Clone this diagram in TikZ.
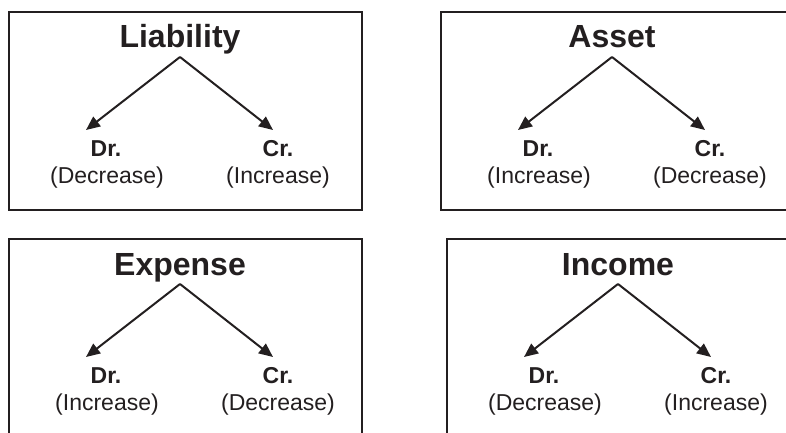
\documentclass[tikz,border=0pt]{standalone}
\usepackage{fontspec}
\setmainfont{Liberation Sans}
\usetikzlibrary{arrows.meta}
\definecolor{ink}{HTML}{231F20}
\begin{document}
\begin{tikzpicture}[x=1pt,y=-1pt,
  frame/.style={draw=ink,line width=2.6pt},
  titletext/.style={anchor=base,inner sep=0pt,text=ink,font=\fontsize{32}{38}\selectfont\bfseries},
  sidetext/.style={anchor=base,inner sep=0pt,text=ink,font=\fontsize{23}{27}\selectfont\bfseries},
  subtext/.style={anchor=base,inner sep=0pt,text=ink,font=\fontsize{23}{27}\selectfont},
  branch/.style={draw=ink,line width=2pt,-{Triangle[length=14pt,width=12pt]}}]
\useasboundingbox (0,0) rectangle (786,433);
\clip (0,0) rectangle (786,433);
\foreach \i/\dx/\dy/\ttl/\drt/\crt in {1/0/0/Liability/Decrease/Increase,
                                       2/432/0/Asset/Increase/Decrease,
                                       3/0/227/Expense/Increase/Decrease,
                                       4/438/227/Income/Decrease/Increase}{
  \begin{scope}[shift={(\dx,\dy)}]
    \path[frame] (9,12) rectangle (362,210);
    \node[titletext] (title\i) at (180,48) {\ttl};
    \coordinate (apex\i) at (180,57);
    \coordinate (drtip\i) at (86,130);
    \coordinate (crtip\i) at (273,130);
    \node[sidetext] (dr\i) at (106,156) {Dr.};
    \node[sidetext] (cr\i) at (278,156) {Cr.};
    \node[subtext] (drsub\i) at (107,183) {(\drt)};
    \node[subtext] (crsub\i) at (278,183) {(\crt)};
    \draw[branch] (apex\i) -- (drtip\i);
    \draw[branch] (apex\i) -- (crtip\i);
  \end{scope}
}
\end{tikzpicture}
\end{document}
